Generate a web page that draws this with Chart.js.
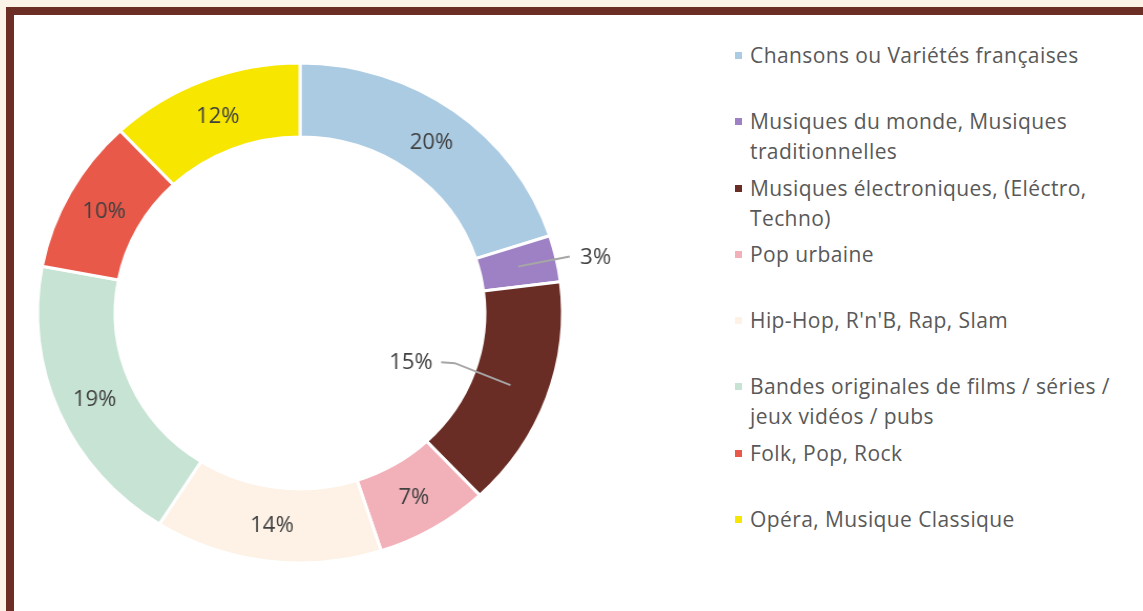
<!DOCTYPE html>
<html lang="fr">
<head>
<meta charset="utf-8">
<title>Genres musicaux</title>
<script src="https://cdn.jsdelivr.net/npm/chart.js@4/dist/chart.umd.min.js"></script>
<style>
  html, body { margin: 0; padding: 0; }
  body { width: 1143px; height: 611px; overflow: hidden; background: #fbf3e8; position: relative; font-family: "Open Sans", Lato, sans-serif; }
  .frame { position: absolute; left: 6px; top: 7px; width: 1200px; height: 700px; border: 8px solid #6b2d24; background: #fff; }
  .donut { position: absolute; left: -30px; top: 33px; width: 660px; height: 560px; transform: scaleX(1.05); transform-origin: 330px 280px; }
  #legend { position: absolute; left: 733px; top: 40px; width: 392px; margin: 0; padding: 0; list-style: none; }
  #legend li { position: relative; height: 66.3px; padding-left: 17px; font-size: 21px; letter-spacing: 0.4px; line-height: 30px; color: #595959; }
  #legend li span { position: absolute; left: 2px; top: 12px; width: 7px; height: 7px; }
</style>
</head>
<body>
<div class="frame"></div>
<div class="donut"><canvas id="genres" width="660" height="560"></canvas></div>
<ul id="legend"></ul>
<script>
const genres = [
  'Chansons ou Variétés françaises',
  'Musiques du monde, Musiques traditionnelles',
  'Musiques électroniques, (Eléctro, Techno)',
  'Pop urbaine',
  "Hip-Hop, R'n'B, Rap, Slam",
  'Bandes originales de films / séries / jeux vidéos / pubs',
  'Folk, Pop, Rock',
  'Opéra, Musique Classique'
];
const shares = [20, 3, 15, 7, 14, 19, 10, 12];
const colors = ['#abcbe3', '#9e80c4', '#6a2d25', '#f2b1b9', '#fdf2e5', '#c6e3d4', '#e8594a', '#f7e600'];

// labels that sit away from their slice, with a grey leader line
const callouts = {
  1: { elbow: [49, -10], text: [59, -9], align: 'left' },
  2: { elbow: [-53, -22], end: [-66, -23], text: [-74, -22], align: 'right' }
};

const sliceLabels = {
  id: 'sliceLabels',
  afterDatasetsDraw(chart) {
    const ctx = chart.ctx;
    const meta = chart.getDatasetMeta(0);
    ctx.save();
    ctx.font = '21px "Open Sans", Lato, sans-serif';
    ctx.textBaseline = 'middle';
    meta.data.forEach((arc, i) => {
      const { x, y, startAngle, endAngle, innerRadius, outerRadius } = arc.getProps(['x', 'y', 'startAngle', 'endAngle', 'innerRadius', 'outerRadius'], true);
      const mid = (startAngle + endAngle) / 2;
      const r = (innerRadius + outerRadius) / 2;
      const px = x + Math.cos(mid) * r;
      const py = y + Math.sin(mid) * r;
      const text = shares[i] + '%';
      const c = callouts[i];
      if (!c) {
        ctx.fillStyle = '#404040';
        ctx.textAlign = 'center';
        ctx.fillText(text, px, py + 2);
        return;
      }
      ctx.strokeStyle = '#a6a6a6';
      ctx.lineWidth = 2;
      ctx.beginPath();
      ctx.moveTo(px, py);
      ctx.lineTo(px + c.elbow[0], py + c.elbow[1]);
      if (c.end) ctx.lineTo(px + c.end[0], py + c.end[1]);
      ctx.stroke();
      ctx.fillStyle = '#404040';
      ctx.textAlign = c.align;
      ctx.fillText(text, px + c.text[0], py + c.text[1]);
    });
    ctx.restore();
  }
};

const chart = new Chart(document.getElementById('genres'), {
  type: 'doughnut',
  data: {
    labels: genres,
    datasets: [{
      data: shares,
      backgroundColor: colors,
      borderColor: '#ffffff',
      borderWidth: 3,
      radius: 250
    }]
  },
  options: {
    responsive: false,
    animation: false,
    cutout: '70.4%',
    layout: { padding: 0 },
    plugins: { legend: { display: false }, tooltip: { enabled: false } }
  },
  plugins: [sliceLabels]
});

document.getElementById('legend').innerHTML = genres.map((g, i) =>
  `<li><span style="background:${colors[i]}"></span>${g}</li>`
).join('');
</script>
</body>
</html>
